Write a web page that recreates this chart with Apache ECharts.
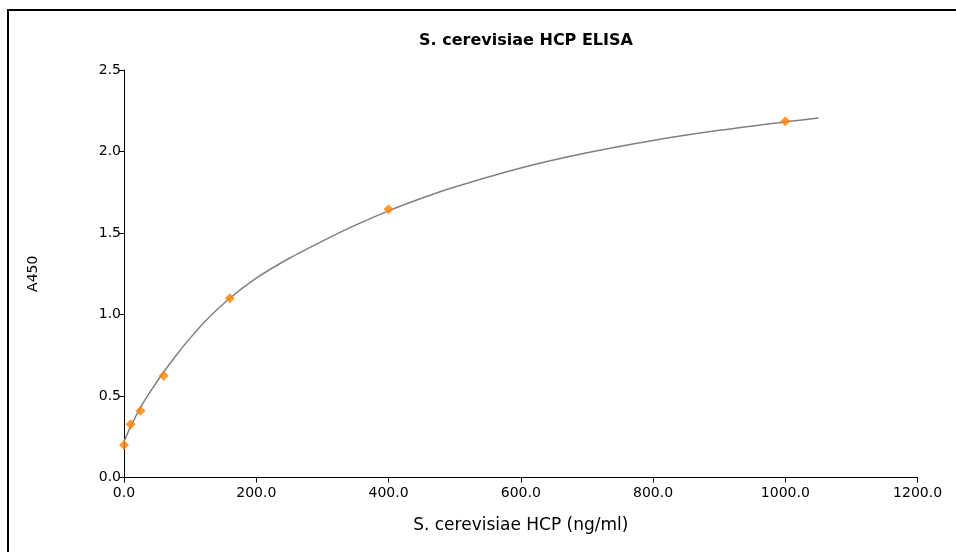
<!DOCTYPE html>
<html>
<head>
<meta charset="utf-8">
<script src="https://cdn.jsdelivr.net/npm/echarts@6/dist/echarts.min.js"></script>
<style>
html,body{margin:0;padding:0;background:#fff;}
#chart{width:956px;height:552px;}
</style>
</head>
<body>
<div id="chart"></div>
<script>
// Measured standards (concentration ng/ml, A450)
const stdConc = [0, 10, 25, 60, 160, 400, 1000];
const stdA450 = [0.20, 0.326, 0.41, 0.625, 1.10, 1.645, 2.185];

// Fitted curve
const curveConc = [0, 10, 25, 40, 60, 80, 100, 125, 160, 200, 250, 300, 350, 400, 450, 500, 600, 700, 800, 900, 1000, 1050];
const curveA450 = [0.22, 0.3125, 0.43, 0.528, 0.647, 0.755, 0.855, 0.968, 1.10, 1.223, 1.345, 1.45, 1.548, 1.636, 1.713, 1.782, 1.899, 1.992, 2.068, 2.130, 2.182, 2.205];

const xTicks = [0, 200, 400, 600, 800, 1000, 1200];
const yTicks = [0, 0.5, 1.0, 1.5, 2.0, 2.5];

const chartTitle = 'S. cerevisiae HCP ELISA';
const xName = 'S. cerevisiae HCP (ng/ml)';
const yName = 'A450';

const FONT = '"DejaVu Sans", "Liberation Sans", Arial, sans-serif';

const chart = echarts.init(document.getElementById('chart'), null, {renderer: 'canvas'});

const stdData = stdConc.map((c, i) => [c, stdA450[i]]);
const curveData = curveConc.map((c, i) => [c, curveA450[i]]);

chart.setOption({
  animation: false,
  backgroundColor: '#ffffff',
  title: {
    text: chartTitle,
    left: 521,
    top: 28,
    textAlign: 'center',
    textStyle: {fontFamily: FONT, fontSize: 16, fontWeight: 'bold', color: '#000'}
  },
  graphic: [{
    type: 'rect',
    shape: {x: 8, y: 10, width: 1000, height: 600},
    style: {fill: null, stroke: '#000', lineWidth: 2},
    silent: true,
    z: 100
  }],
  grid: {left: 124, right: 38.4, top: 70, bottom: 74.5, containLabel: false},
  xAxis: {
    type: 'value',
    min: xTicks[0],
    max: xTicks[xTicks.length - 1],
    interval: 200,
    name: xName,
    nameLocation: 'middle',
    nameGap: 40,
    nameTextStyle: {fontFamily: FONT, fontSize: 17, color: '#000'},
    axisLine: {show: true, onZero: false, lineStyle: {color: '#000', width: 1}},
    axisTick: {show: true, length: 5, inside: false, lineStyle: {color: '#000'}},
    axisLabel: {fontFamily: FONT, fontSize: 14, color: '#000', margin: 9,
      formatter: v => v.toFixed(1)},
    splitLine: {show: false}
  },
  yAxis: {
    type: 'value',
    min: yTicks[0],
    max: yTicks[yTicks.length - 1],
    interval: 0.5,
    name: yName,
    nameLocation: 'middle',
    nameGap: 84,
    nameRotate: 90,
    nameTextStyle: {fontFamily: FONT, fontSize: 14, color: '#000'},
    axisLine: {show: true, onZero: false, lineStyle: {color: '#000', width: 1}},
    axisTick: {show: true, length: 5, inside: false, lineStyle: {color: '#000'}},
    axisLabel: {fontFamily: FONT, fontSize: 14, color: '#000', margin: 3,
      formatter: v => v.toFixed(1)},
    splitLine: {show: false}
  },
  series: [
    {
      type: 'line',
      data: curveData,
      smooth: 0.3,
      showSymbol: false,
      symbol: 'none',
      lineStyle: {color: '#808080', width: 1.5},
      z: 2
    },
    {
      type: 'scatter',
      data: stdData,
      symbol: 'diamond',
      symbolSize: 10,
      itemStyle: {color: '#FF8000'},
      z: 3
    }
  ]
});
</script>
</body>
</html>
